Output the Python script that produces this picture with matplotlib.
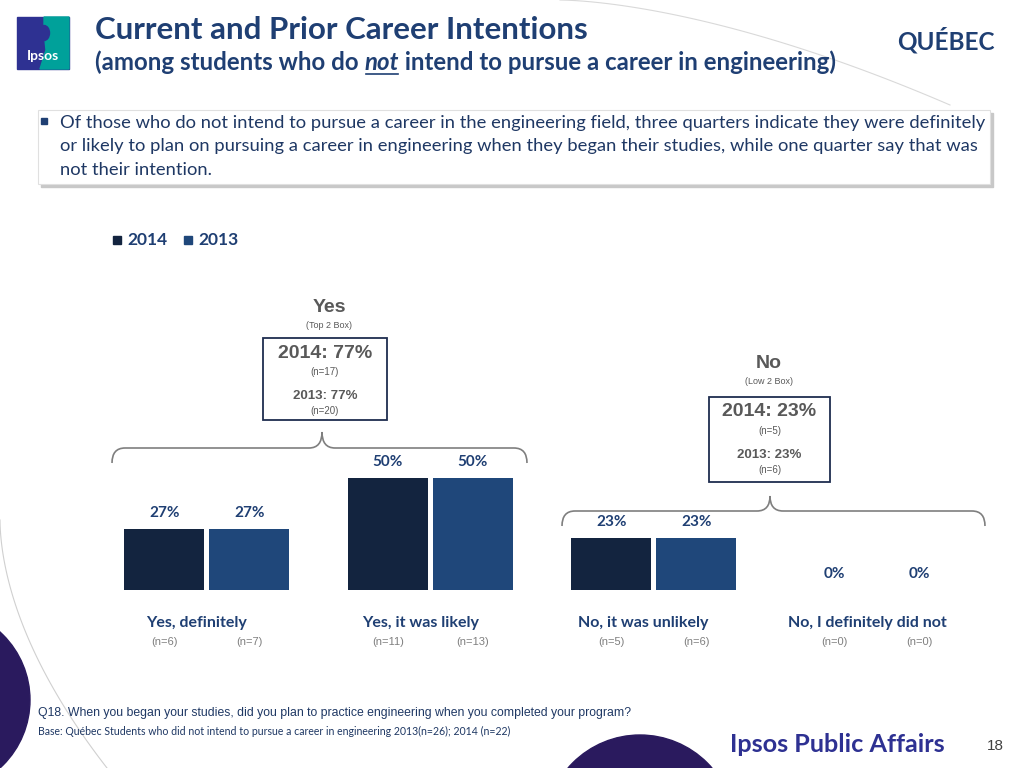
import matplotlib.pyplot as plt
from matplotlib.patches import Rectangle, PathPatch, Polygon, Ellipse, Circle
from matplotlib.path import Path

# Data
categories = ["Yes, definitely", "Yes, it was likely", "No, it was unlikely", "No, I definitely did not"]
pct_2014 = [27, 50, 23, 0]
pct_2013 = [27, 50, 23, 0]
n_2014 = [6, 11, 5, 0]
n_2013 = [7, 13, 6, 0]
years = ["2014", "2013"]

top2_pct = [77, 77]     # 2014, 2013
top2_n = [17, 20]
low2_pct = [23, 23]
low2_n = [5, 6]

c2014 = "#13243F"
c2013 = "#1F477A"
navy = "#1F3F73"
grey = "#595959"

plt.rcParams["font.family"] = ["Lato", "DejaVu Sans"]

fig = plt.figure(figsize=(10.24, 7.68), dpi=100)

# full-figure overlay in pixel coords for the slide decoration
bg = fig.add_axes([0, 0, 1, 1])
bg.set_xlim(0, 1024)
bg.set_ylim(768, 0)
bg.axis("off")

# decorative swooshes
t = [i / 50 for i in range(51)]
bg.plot([560 + 390 * s for s in t], [0 + 105 * s ** 1.6 for s in t], color="#D9D9D9", lw=0.8)
bg.plot([0 + 107 * s ** 1.8 for s in t], [520 + 248 * s for s in t], color="#D0D0D0", lw=0.8)
bg.add_patch(Circle((-62, 700), 92, color="#2A1A5E", zorder=1))
bg.add_patch(Circle((640, 830), 95, color="#2A1A5E", zorder=1))

# logo
bg.add_patch(Rectangle((17, 17), 52, 52, color="#2E3192"))
bg.add_patch(Polygon([(44, 17), (69, 17), (69, 69), (40, 69), (46, 50), (44, 30)], color="#00A19A"))
bg.add_patch(Ellipse((44, 33), 11, 15, color="#2E3192"))
bg.text(43, 56, "Ipsos", color="white", fontsize=10, fontweight="bold", ha="center", va="center")

# title block
bg.text(95, 30, "Current and Prior Career Intentions", color=navy, fontsize=22.5,
        fontweight="bold", ha="left", va="center")
fig.canvas.draw()
r = fig.canvas.get_renderer()
sub_fs = 17.3
t1 = bg.text(95, 62, "(among students who do ", color=navy, fontsize=sub_fs, fontweight="bold",
             ha="left", va="center")
x1 = bg.transData.inverted().transform(t1.get_window_extent(r))[1][0]
t2 = bg.text(x1, 62, "not", color=navy, fontsize=sub_fs, fontweight="bold", style="italic",
             ha="left", va="center")
x2 = bg.transData.inverted().transform(t2.get_window_extent(r))[1][0]
bg.plot([x1 + 1, x2 - 1], [74, 74], color=navy, lw=1.2)
bg.text(x2, 62, " intend to pursue a career in engineering)", color=navy, fontsize=sub_fs,
        fontweight="bold", ha="left", va="center")
bg.text(995, 40, "QUÉBEC", color=navy, fontsize=17.5, fontweight="bold", ha="right", va="center")

# bullet box
bg.add_patch(Rectangle((41, 113), 952, 74, color="#C8C8C8", zorder=1))
bg.add_patch(Rectangle((38, 110), 952, 74, facecolor="white", edgecolor="#E0E0E0", lw=0.8, zorder=2))
bg.add_patch(Rectangle((41, 118), 6, 6, color=navy, zorder=3))
lines = ["Of those who do not intend to pursue a career in the engineering field, three quarters indicate they were definitely",
         "or likely to plan on pursuing a career in engineering when they began their studies, while one quarter say that was",
         "not their intention."]
for i, ln in enumerate(lines):
    bg.text(60, 123 + 23.5 * i, ln, color="#1F3864", fontsize=13.2, ha="left", va="center", zorder=3)

# legend
for x, yr, col in [(117, "2014", c2014), (188, "2013", c2013)]:
    bg.add_patch(Rectangle((x - 4, 236), 8, 8, color=col))
    bg.text(x + 10, 240, yr, color=navy, fontsize=12.5, fontweight="bold", ha="left", va="center")


def brace(x0, x1, xp, ytip, yline, yend, r=13):
    verts = [(x0, yend), (x0, yline), (x0 + r, yline),
             (xp - r, yline), (xp, yline), (xp, ytip),
             (xp, yline), (xp + r, yline),
             (x1 - r, yline), (x1, yline), (x1, yend)]
    codes = [Path.MOVETO, Path.CURVE3, Path.CURVE3,
             Path.LINETO, Path.CURVE3, Path.CURVE3,
             Path.CURVE3, Path.CURVE3,
             Path.LINETO, Path.CURVE3, Path.CURVE3]
    bg.add_patch(PathPatch(Path(verts, codes), facecolor="none", edgecolor="#7F7F7F", lw=1.2))


brace(112, 527, 322, 432, 448, 463)
brace(562, 985, 770, 496, 511, 526)

# summary boxes
def summary(cx, head, sub, top, box, pcts, ns):
    bg.text(cx, top, head, color=grey, fontsize=14, fontweight="bold", ha="center", va="center",
            family=["Liberation Sans"])
    bg.text(cx, top + 18, sub, color=grey, fontsize=6.5, ha="center", va="center", family=["Liberation Sans"])
    x0, y0, w, h = box
    bg.add_patch(Rectangle((x0, y0), w, h, facecolor="white", edgecolor="#1F2D4F", lw=1.3))
    bcx = x0 + w / 2
    bg.text(bcx, y0 + 15, f"{years[0]}: {pcts[0]}%", color=grey, fontsize=14, fontweight="bold",
            ha="center", va="center", family=["Liberation Sans"])
    bg.text(bcx, y0 + 34, f"(n={ns[0]})", color=grey, fontsize=7, ha="center", va="center",
            family=["Liberation Sans"])
    bg.text(bcx, y0 + 58, f"{years[1]}: {pcts[1]}%", color=grey, fontsize=9.5, fontweight="bold",
            ha="center", va="center", family=["Liberation Sans"])
    bg.text(bcx, y0 + 73, f"(n={ns[1]})", color=grey, fontsize=7, ha="center", va="center",
            family=["Liberation Sans"])


summary(329, "Yes", "(Top 2 Box)", 308, (263, 338, 124, 82), top2_pct, top2_n)
summary(769, "No", "(Low 2 Box)", 364, (709, 397, 121, 85), low2_pct, low2_n)

# bar chart
ax = fig.add_axes([95 / 1024, (768 - 590) / 768, 894 / 1024, 135 / 768])
ax.set_xlim(-0.5, 3.5)
ax.set_ylim(0, 60)
ax.axis("off")
ax.patch.set_alpha(0)

w = 0.358
off = 0.19
xs = list(range(len(categories)))
for vals, ns, d, col in [(pct_2014, n_2014, -off, c2014), (pct_2013, n_2013, off, c2013)]:
    ax.bar([x + d for x in xs], vals, width=w, color=col)
    for x, v, n in zip(xs, vals, ns):
        ax.annotate(f"{v}%", (x + d, v), xytext=(0, 16), textcoords="offset pixels",
                    ha="center", va="center", color=navy, fontsize=11, fontweight="bold")
        ax.annotate(f"(n={n})", (x + d, 0), xytext=(0, -52), textcoords="offset pixels",
                    ha="center", va="center", color="#7F7F7F", fontsize=8, family=["Liberation Sans"])
for x, cat in zip(xs, categories):
    ax.annotate(cat, (x, 0), xytext=(-10, -33), textcoords="offset pixels",
                ha="center", va="center", color=navy, fontsize=11.5, fontweight="bold")

# footer
bg.text(38, 713, "Q18. When you began your studies, did you plan to practice engineering when you completed your program?",
        color="#1F3864", fontsize=8.8, ha="left", va="center", family=["Liberation Sans"])
bg.text(38, 731, "Base: Québec Students who did not intend to pursue a career in engineering 2013(n=26); 2014 (n=22)",
        color="#1F3864", fontsize=7.6, ha="left", va="center")
bg.text(730, 745, "Ipsos Public Affairs", color="#2E3192", fontsize=18.2, fontweight="bold",
        ha="left", va="center")
bg.text(995, 746, "18", color="#404040", fontsize=11, ha="center", va="center", family=["Liberation Sans"])

fig.savefig("out.png", dpi=100)
